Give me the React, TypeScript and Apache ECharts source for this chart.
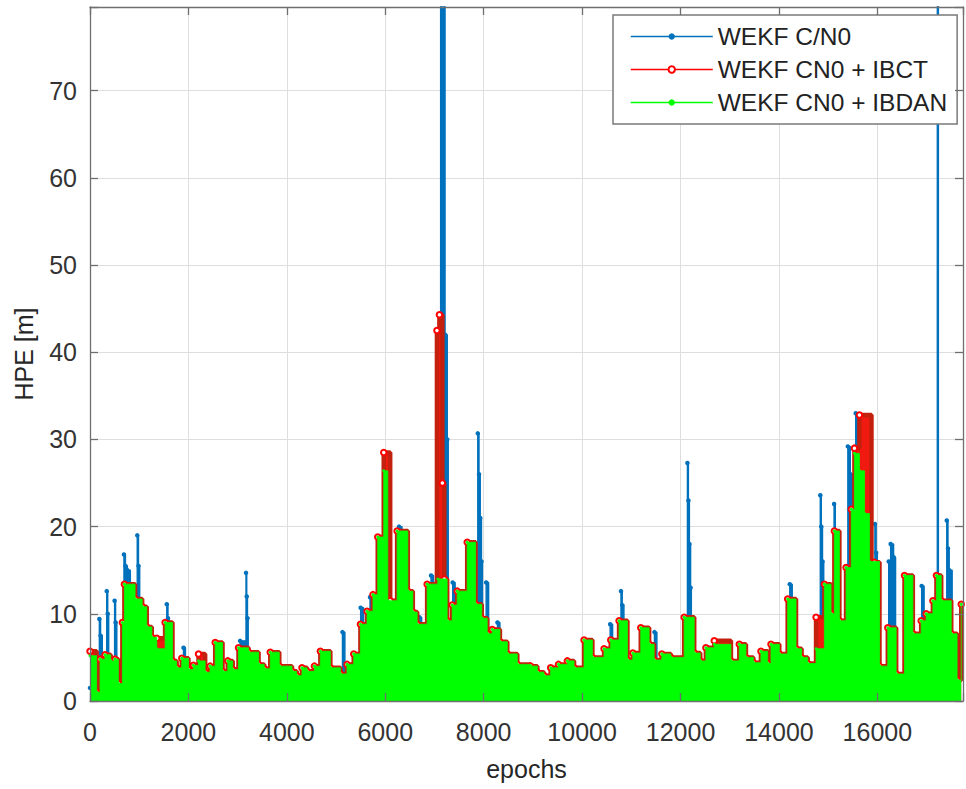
import React, { useEffect, useRef } from 'react';
import * as echarts from 'echarts';

const seriesNames = ['WEKF C/N0', 'WEKF CN0 + IBCT', 'WEKF CN0 + IBDAN'];
const xMax = 17740;
const yMax = 79.6;

// [epoch, HPE] vertices of each trace's upper envelope (value holds until next epoch)
const blueData: [number, number][] = [
  [0, 1.5], [190, 9.4], [215, 7.5], [250, 1.5], [340, 12.6], [360, 10.0], [380, 1.5],
  [500, 11.5], [520, 9.0], [545, 1.5], [690, 16.8], [720, 15.5], [760, 15.0], [820, 1.5],
  [960, 19.0], [985, 15.5], [1010, 1.5], [1560, 11.1], [1585, 9.5], [1610, 1.5],
  [1900, 6.1], [1940, 1.5], [3050, 6.9], [3170, 14.7], [3185, 12.0], [3200, 9.5], [3215, 1.5],
  [5130, 7.9], [5180, 1.5], [5500, 10.7], [5560, 1.5], [5690, 11.9], [5740, 1.5],
  [6280, 20.0], [6340, 1.5], [6690, 9.6], [6740, 1.5], [6930, 14.4], [6980, 1.5],
  [7110, 14.0], [7125, 95], [7215, 42.0], [7260, 30.0], [7280, 1.5], [7370, 13.6],
  [7420, 1.5], [7880, 30.7], [7905, 26.0], [7930, 21.0], [7955, 16.0], [7975, 1.5],
  [8050, 13.6], [8100, 1.5], [8280, 9.0], [8330, 1.5], [10570, 8.8], [10620, 1.5],
  [10790, 12.6], [10815, 11.0], [10850, 1.5], [11470, 7.9], [11520, 1.5],
  [12140, 27.3], [12160, 23.0], [12180, 18.0], [12205, 13.0], [12220, 1.5],
  [14220, 13.4], [14270, 1.5], [14840, 23.6], [14860, 20.0], [14885, 16.0], [14910, 12.0],
  [14925, 1.5], [15120, 22.6], [15145, 19.0], [15170, 1.5], [15400, 29.2], [15450, 26.0],
  [15500, 1.5], [15560, 33.0], [15600, 30.5], [15640, 1.5], [15950, 20.3], [15975, 17.0],
  [16000, 1.5], [16230, 16.0], [16270, 18.0], [16330, 16.5], [16370, 1.5], [16900, 13.2],
  [16950, 1.5], [17218, 95], [17240, 14.0], [17280, 1.5], [17410, 20.7], [17435, 17.5],
  [17460, 15.0], [17520, 1.5],
];

const redData: [number, number][] = [
  [0, 5.7], [135, 1.0], [204, 4.8], [305, 5.3], [420, 4.6], [509, 4.8], [577, 2.0], [658, 9.0],
  [699, 13.4], [916, 11.7], [1060, 10.8], [1153, 8.5], [1255, 7.3], [1357, 7.2], [1526, 9.0],
  [1676, 4.6], [1760, 3.8], [1865, 4.9], [2001, 3.6], [2100, 4.1], [2205, 5.4], [2340, 3.3],
  [2440, 4.0], [2544, 6.7], [2693, 3.4], [2800, 4.6], [2900, 3.6], [3018, 6.1], [3222, 5.6],
  [3426, 4.2], [3540, 3.7], [3663, 5.6], [3846, 4.0], [4104, 3.4], [4200, 2.9], [4307, 3.8],
  [4410, 3.4], [4560, 4.0], [4681, 5.7], [4884, 3.8], [5088, 3.1], [5223, 4.2], [5359, 5.4],
  [5495, 8.8], [5630, 10.3], [5750, 12.2], [5847, 18.8], [5969, 28.5], [6100, 11.5],
  [6241, 19.5], [6458, 12.6], [6560, 10.2], [6648, 8.8], [6851, 13.4], [7050, 42.5],
  [7100, 44.3], [7160, 25.0], [7200, 14.0], [7258, 9.2], [7360, 11.0], [7462, 12.6],
  [7665, 18.2], [7835, 11.1], [7960, 9.5], [8072, 7.7], [8174, 8.2], [8330, 6.8], [8480, 5.4],
  [8683, 4.2], [8954, 4.0], [9090, 3.3], [9225, 2.9], [9361, 3.8], [9520, 4.2], [9700, 4.6],
  [9836, 3.8], [10039, 7.0], [10209, 5.0], [10446, 6.0], [10582, 7.0], [10751, 9.2],
  [10921, 4.7], [11030, 5.5], [11192, 8.4], [11362, 6.5], [11463, 4.7], [11620, 5.4],
  [11803, 5.0], [12074, 9.6], [12278, 5.5], [12400, 4.6], [12515, 6.1], [12685, 6.9],
  [13024, 4.6], [13194, 6.5], [13329, 5.0], [13480, 4.4], [13634, 5.7], [13770, 4.3],
  [13838, 6.5], [14007, 5.4], [14177, 11.7], [14347, 6.0], [14460, 5.0], [14584, 4.3],
  [14754, 9.6], [14923, 13.4], [15059, 10.0], [15126, 19.5], [15228, 9.2], [15364, 15.3],
  [15470, 22.0], [15534, 29.0], [15635, 32.8], [15880, 13.8], [15941, 15.9], [16043, 4.0],
  [16212, 8.4], [16382, 3.1], [16551, 14.4], [16721, 7.7], [16890, 9.2], [16992, 10.0],
  [17128, 11.5], [17200, 14.4], [17297, 11.5], [17501, 7.7], [17620, 2.4], [17704, 11.1],
];

const greenData: [number, number][] = [
  [0, 5.2], [135, 1.0], [204, 4.8], [305, 5.3], [420, 4.6], [509, 4.8], [577, 2.0], [658, 9.0],
  [699, 13.4], [916, 11.7], [1060, 10.8], [1153, 8.5], [1255, 7.3], [1357, 6.0], [1526, 9.0],
  [1676, 4.6], [1760, 3.8], [1865, 4.9], [2001, 3.6], [2100, 4.1], [2205, 4.6], [2340, 3.3],
  [2440, 4.0], [2544, 6.7], [2693, 3.4], [2800, 4.6], [2900, 3.6], [3018, 6.1], [3222, 5.6],
  [3426, 4.2], [3540, 3.7], [3663, 5.6], [3846, 4.0], [4104, 3.4], [4200, 2.9], [4307, 3.8],
  [4410, 3.4], [4560, 4.0], [4681, 5.7], [4884, 3.8], [5088, 3.1], [5223, 4.2], [5359, 5.4],
  [5495, 8.8], [5630, 10.3], [5750, 12.2], [5847, 18.8], [5969, 26.4], [6051, 11.5],
  [6241, 19.5], [6458, 12.6], [6560, 10.2], [6648, 8.8], [6851, 13.4], [7068, 14.0],
  [7258, 9.2], [7360, 11.0], [7462, 12.6], [7665, 18.2], [7835, 11.1], [7960, 9.5],
  [8072, 7.7], [8174, 8.2], [8330, 6.8], [8480, 5.4], [8683, 4.2], [8954, 4.0], [9090, 3.3],
  [9225, 2.9], [9361, 3.8], [9520, 4.2], [9700, 4.6], [9836, 3.8], [10039, 7.0], [10209, 5.0],
  [10446, 6.0], [10582, 7.0], [10751, 9.2], [10921, 4.7], [11030, 5.5], [11192, 8.4],
  [11362, 6.5], [11463, 4.7], [11620, 5.4], [11803, 5.0], [12074, 9.6], [12278, 5.5],
  [12400, 4.6], [12515, 6.1], [12685, 6.5], [13024, 4.6], [13194, 6.5], [13329, 5.0],
  [13480, 4.4], [13634, 5.7], [13770, 4.3], [13838, 6.5], [14007, 5.4], [14177, 11.7],
  [14347, 6.0], [14460, 5.0], [14584, 4.3], [14754, 6.0], [14923, 13.4], [15059, 10.0],
  [15126, 19.5], [15228, 9.2], [15364, 15.3], [15470, 22.0], [15534, 28.4], [15635, 26.4],
  [15740, 21.5], [15839, 16.0], [16043, 4.0], [16212, 8.4], [16382, 3.1], [16551, 14.4],
  [16721, 7.7], [16890, 9.2], [16992, 10.0], [17128, 11.5], [17200, 14.4], [17297, 11.5],
  [17501, 7.7], [17620, 2.4], [17704, 11.1],
];

const FONT = '"Liberation Sans", Arial, Helvetica, sans-serif';
const BLUE = '#0072BD';
const RED = '#FF0000';
const GREEN = '#00FF00';

export default function App() {
  const ref = useRef<HTMLDivElement>(null);
  useEffect(() => {
    if (!ref.current) return;
    const chart = echarts.init(ref.current, null, { renderer: 'svg' });
    const boxLine = { color: '#6f6f6f', width: 1.3 };
    const boxAxisX = (position: string) => ({
      type: 'value', min: 0, max: xMax, interval: 2000, position, z: 10,
      axisLine: { show: true, onZero: false, lineStyle: boxLine },
      axisTick: { show: true, inside: true, length: 8, lineStyle: boxLine },
      axisLabel: { show: false }, splitLine: { show: false },
    });
    const boxAxisY = (position: string) => ({
      type: 'value', min: 0, max: yMax, interval: 10, position, z: 10,
      axisLine: { show: true, onZero: false, lineStyle: boxLine },
      axisTick: { show: true, inside: true, length: 8, lineStyle: boxLine },
      axisLabel: { show: false }, splitLine: { show: false },
    });
    const option: any = {
      animation: false,
      backgroundColor: '#ffffff',
      grid: { left: 90, right: 2.5, top: 7, bottom: 88, containLabel: false },
      xAxis: [
        {
          type: 'value', min: 0, max: xMax, interval: 2000, position: 'bottom',
          name: 'epochs', nameLocation: 'middle', nameGap: 55,
          nameTextStyle: { fontSize: 25, color: '#262626', fontFamily: FONT },
          axisLine: { show: false }, axisTick: { show: false },
          axisLabel: {
            fontSize: 25, color: '#333333', fontFamily: FONT, margin: 18,
            formatter: (v: number) => (v % 2000 === 0 ? String(v) : ''),
          },
          splitLine: { show: true, lineStyle: { color: '#dedede', width: 1 } },
        },
        boxAxisX('bottom'),
        boxAxisX('top'),
      ],
      yAxis: [
        {
          type: 'value', min: 0, max: yMax, interval: 10, position: 'left',
          name: 'HPE [m]', nameLocation: 'middle', nameGap: 54,
          nameTextStyle: { fontSize: 25, color: '#262626', fontFamily: FONT },
          axisLine: { show: false }, axisTick: { show: false },
          axisLabel: {
            fontSize: 25, color: '#333333', fontFamily: FONT, margin: 13,
            formatter: (v: number) => (v % 10 === 0 ? String(v) : ''),
          },
          splitLine: { show: true, lineStyle: { color: '#dedede', width: 1 } },
        },
        boxAxisY('left'),
        boxAxisY('right'),
      ],
      legend: {
        orient: 'vertical', left: 613, top: 15,
        padding: [9, 10, 9, 17], itemWidth: 82, itemHeight: 8, itemGap: 8,
        backgroundColor: '#ffffff', borderColor: '#7a7a7a', borderWidth: 1.5,
        selectedMode: false,
        textStyle: { fontSize: 24.5, color: '#222222', fontFamily: FONT },
        data: [
          { name: seriesNames[0], lineStyle: { width: 1.5, color: BLUE } },
          { name: seriesNames[1], lineStyle: { width: 1.5, color: RED } },
          { name: seriesNames[2], lineStyle: { width: 1.5, color: GREEN } },
        ],
      },
      series: [
        {
          name: seriesNames[0], type: 'line', data: blueData, step: 'end', z: 2,
          symbol: 'circle', symbolSize: 4.5, showSymbol: true, showAllSymbol: true,
          itemStyle: { color: BLUE }, lineStyle: { color: BLUE, width: 1.4 },
          areaStyle: { color: BLUE, opacity: 1 },
        },
        {
          name: seriesNames[1], type: 'line', data: redData, step: 'end', z: 3,
          symbol: 'emptyCircle', symbolSize: 5.5, showSymbol: true, showAllSymbol: true,
          itemStyle: { color: RED }, lineStyle: { color: '#c4200e', width: 4.5 },
          areaStyle: { color: '#f01a10', opacity: 1 },
        },
        {
          name: seriesNames[2], type: 'line', data: greenData, step: 'end', z: 4,
          symbol: 'circle', symbolSize: 3, showSymbol: true, showAllSymbol: true,
          itemStyle: { color: GREEN }, lineStyle: { color: GREEN, width: 0.8 },
          areaStyle: { color: GREEN, opacity: 1 },
        },
      ],
    };
    chart.setOption(option);
    return () => chart.dispose();
  }, []);
  return (
    <div
      ref={ref}
      style={{ position: 'fixed', left: 0, top: 0, width: 966, height: 789, background: '#fff' }}
    />
  );
}
